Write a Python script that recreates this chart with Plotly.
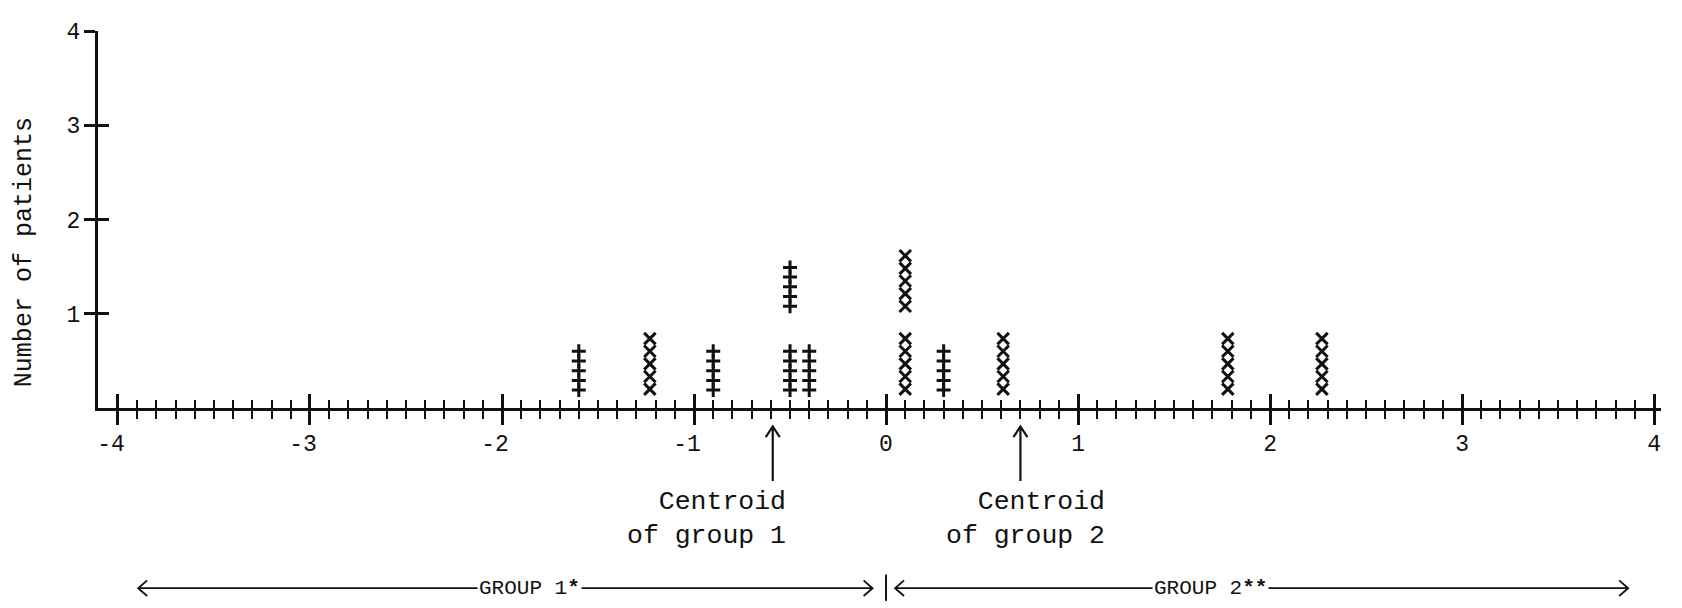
import plotly.graph_objects as go

# ---------------- data ----------------
group1_scores = [-1.6, -0.9, -0.5, -0.5, -0.4, 0.3]      # one entry per patient (typed "+" columns)
group2_scores = [-1.23, 0.1, 0.1, 0.61, 1.78, 2.27]      # one entry per patient (typed "X" columns)
centroids = [-0.59, 0.70]
centroid_labels = ["Centroid<br>of group 1", "Centroid<br>of group 2"]
x_tick_vals = [-4, -3, -2, -1, 0, 1, 2, 3, 4]
x_tick_text = ["-4\u00a0", "-3\u00a0", "-2\u00a0", "-1\u00a0", "0", "1", "2", "3", "4"]
x_minor_vals = [round(v * 0.1, 1) for v in range(-40, 41)]
y_tick_vals = [1, 2, 3, 4]
y_tick_text = ["1", "2", "3", "4"]
group_labels = ["GROUP 1<b>*</b>", "GROUP 2<b>**</b>"]
group_spans = [(-3.895, -0.07), (0.047, 3.865)]
y_title = "Number of patients"

# ---------------- styling / layout constants ----------------
W, H = 1682, 608
OFF = 8                      # page body margin the figure is drawn inside
ML, MR, MT, MB = 98 - OFF, 21 + OFF, 21 - OFF, 200 + OFF
XR = [-4.104, 4.036]
YR = [0, 4]
INK = "#111111"
FONT = "Liberation Mono, Courier New, monospace"
PW = W - ML - MR
PH = H - MT - MB


def py(row):
    """figure pixel row -> paper y"""
    return (H - MB - row) / PH


def px(xv):
    """data x -> paper x"""
    return (xv - XR[0]) / (XR[1] - XR[0])


def dpx(d):
    return d / PW


def dpy(d):
    return d / PH


def stack(scores, base, step, gap, n=5):
    xs, ys, seen = [], [], {}
    for s in scores:
        k = seen.get(s, 0)
        seen[s] = k + 1
        for i in range(n):
            xs.append(s)
            ys.append(base + k * gap + i * step)
    return xs, ys


g1x, g1y = stack(group1_scores, 0.19, 0.103, 0.89)
g2x, g2y = stack(group2_scores, 0.20, 0.134, 0.88)

fig = go.Figure()
fig.add_trace(go.Scatter(
    x=g1x, y=g1y, mode="markers", showlegend=False, hoverinfo="skip",
    marker=dict(symbol="cross-thin", size=10, color=INK,
                line=dict(color=INK, width=3)),
))
fig.add_trace(go.Scatter(
    x=g2x, y=g2y, mode="markers", showlegend=False, hoverinfo="skip",
    marker=dict(symbol="x-thin", size=11.5, color=INK,
                line=dict(color=INK, width=3)),
))
# dummy trace for the overlay axes (inside half of crossing ticks)
fig.add_trace(go.Scatter(x=[], y=[], xaxis="x2", yaxis="y2",
                         showlegend=False, hoverinfo="skip"))

tickfont = dict(family=FONT, size=23, color=INK)

fig.update_layout(
    width=W, height=H,
    margin=dict(l=ML, r=MR, t=MT, b=MB),
    paper_bgcolor="white", plot_bgcolor="white",
    font=dict(family=FONT, color=INK),
    xaxis=dict(
        range=XR, showgrid=False, zeroline=False,
        showline=True, linecolor=INK, linewidth=3,
        tickmode="array", tickvals=x_tick_vals, ticktext=x_tick_text,
        ticks="outside", ticklen=14, tickwidth=3, tickcolor=INK,
        tickfont=tickfont, ticklabelstandoff=-2,
        minor=dict(tickmode="array", tickvals=x_minor_vals,
                   ticks="outside", ticklen=8, tickwidth=2, tickcolor=INK),
    ),
    xaxis2=dict(
        range=XR, overlaying="x", anchor="y", side="bottom",
        showgrid=False, zeroline=False, showline=False,
        tickmode="array", tickvals=x_tick_vals, showticklabels=False,
        ticks="inside", ticklen=14, tickwidth=3, tickcolor=INK,
        minor=dict(tickmode="array", tickvals=x_minor_vals,
                   ticks="inside", ticklen=8, tickwidth=2, tickcolor=INK),
    ),
    yaxis=dict(
        range=YR, showgrid=False, zeroline=False,
        showline=True, linecolor=INK, linewidth=3,
        tickmode="array", tickvals=y_tick_vals, ticktext=y_tick_text,
        ticks="outside", ticklen=11, tickwidth=3, tickcolor=INK,
        tickfont=tickfont, ticklabelstandoff=-1,
    ),
    yaxis2=dict(
        range=YR, overlaying="y", anchor="x", side="left",
        showgrid=False, zeroline=False, showline=False,
        tickmode="array", tickvals=y_tick_vals, showticklabels=False,
        ticks="inside", ticklen=11, tickwidth=3, tickcolor=INK,
    ),
)

ann = []
shapes = []
# y-axis title
ann.append(dict(text=y_title, xref="paper", yref="paper",
                x=dpx(16 - ML), y=py(240), textangle=-90,
                showarrow=False, xanchor="center", yanchor="middle",
                font=dict(family=FONT, size=25, color=INK)))

# centroid arrows (open head pointing up to the axis) and labels
label_right = [-0.51, 1.15]
head_row, tail_row = 419, 475
for c, lab, xr in zip(centroids, centroid_labels, label_right):
    xc = px(c)
    path = (f"M{xc},{py(tail_row)} L{xc},{py(head_row)} "
            f"M{xc - dpx(7)},{py(head_row + 11)} L{xc},{py(head_row)} "
            f"L{xc + dpx(7)},{py(head_row + 11)}")
    shapes.append(dict(type="path", xref="paper", yref="paper", path=path,
                       line=dict(color=INK, width=2.2)))
    ann.append(dict(text=lab, x=xr, xref="x", y=py(514), yref="paper",
                    xanchor="right", yanchor="middle", align="right",
                    showarrow=False,
                    font=dict(family=FONT, size=26.5, color=INK)))

# group extent double arrows with labels
group_row = 585
group_label_x = [-1.855, 1.69]
for (a, b), lab, lx in zip(group_spans, group_labels, group_label_x):
    xa, xb = px(a), px(b)
    yy = py(group_row)
    path = (f"M{xa},{yy} L{xb},{yy} "
            f"M{xa + dpx(9)},{yy + dpy(8)} L{xa},{yy} L{xa + dpx(9)},{yy - dpy(8)} "
            f"M{xb - dpx(9)},{yy + dpy(8)} L{xb},{yy} L{xb - dpx(9)},{yy - dpy(8)}")
    shapes.append(dict(type="path", xref="paper", yref="paper", path=path,
                       line=dict(color=INK, width=1.8)))
    ann.append(dict(text=lab, x=lx, xref="x", y=yy, yref="paper",
                    xanchor="center", yanchor="middle", showarrow=False,
                    bgcolor="white", borderpad=1,
                    font=dict(family=FONT, size=21, color=INK)))

# divider between the two groups at score 0
shapes.append(dict(type="line", xref="paper", yref="paper",
                   x0=px(0), x1=px(0), y0=py(571), y1=py(598),
                   line=dict(color=INK, width=2)))

fig.update_layout(annotations=ann, shapes=shapes)

fig.write_html("out.html")
